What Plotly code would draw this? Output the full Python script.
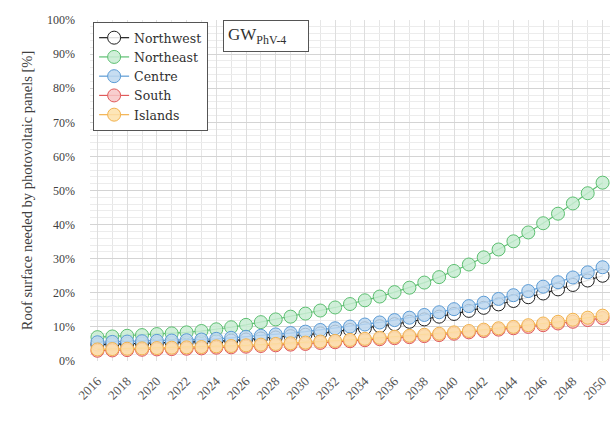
import plotly.graph_objects as go

years = list(range(2016, 2051))
tick_years = list(range(2016, 2051, 2))

northwest = [4.8, 4.9, 5.0, 5.1, 5.2, 5.3, 5.4, 5.6, 5.8, 6.0, 6.3, 6.6, 6.9, 7.3, 7.7,
             8.1, 8.6, 9.1, 9.6, 10.2, 10.8, 11.5, 12.2, 13.0, 13.8, 14.7, 15.6, 16.6,
             17.6, 18.7, 19.8, 21.0, 22.3, 23.6, 25.0]
northeast = [7.0, 7.2, 7.4, 7.6, 7.9, 8.1, 8.4, 8.8, 9.3, 9.9, 10.6, 11.4, 12.2, 13.0, 13.9,
             14.8, 15.7, 16.7, 17.8, 18.9, 20.2, 21.5, 23.0, 24.6, 26.4, 28.3, 30.4, 32.7,
             35.1, 37.7, 40.4, 43.2, 46.2, 49.2, 52.3]
centre = [5.5, 5.6, 5.7, 5.8, 5.9, 6.0, 6.1, 6.3, 6.5, 6.8, 7.1, 7.4, 7.8, 8.2, 8.6,
          9.1, 9.6, 10.1, 10.7, 11.3, 12.0, 12.7, 13.5, 14.3, 15.2, 16.1, 17.1, 18.2,
          19.3, 20.5, 21.8, 23.1, 24.5, 26.0, 27.5]
south = [3.0, 3.1, 3.2, 3.3, 3.4, 3.5, 3.6, 3.7, 3.9, 4.0, 4.2, 4.4, 4.6, 4.8, 5.0,
         5.3, 5.5, 5.8, 6.1, 6.4, 6.7, 7.0, 7.3, 7.6, 8.0, 8.4, 8.8, 9.2, 9.6, 10.0,
         10.5, 11.0, 11.5, 12.0, 12.6]
islands = [3.4, 3.5, 3.6, 3.7, 3.8, 3.9, 4.0, 4.1, 4.3, 4.4, 4.6, 4.8, 5.0, 5.2, 5.4,
           5.7, 5.9, 6.2, 6.5, 6.8, 7.1, 7.4, 7.7, 8.0, 8.4, 8.8, 9.2, 9.6, 10.0, 10.5,
           11.0, 11.5, 12.1, 12.7, 13.3]

series = [
    ("Northwest", northwest, "#1e1e1e", "rgba(255,255,255,0.85)"),
    ("Northeast", northeast, "#5cbf70", "rgba(200,236,210,0.85)"),
    ("Centre", centre, "#5b9bd5", "rgba(189,215,238,0.85)"),
    ("South", south, "#e05a5a", "rgba(247,198,198,0.85)"),
    ("Islands", islands, "#f2b24e", "rgba(253,224,170,0.85)"),
]

FONT = "Liberation Serif"
fig = go.Figure()
for name, vals, edge, fill in series:
    fig.add_trace(go.Scatter(
        x=years, y=vals, name=name, mode="lines+markers",
        line=dict(color=edge, width=1.2),
        marker=dict(symbol="circle", size=13, color=fill,
                    line=dict(color=edge, width=1)),
    ))

fig.update_layout(
    width=610, height=423,
    margin=dict(l=90, r=0, t=20, b=62),
    paper_bgcolor="white", plot_bgcolor="white",
    font=dict(family=FONT, size=12, color="#404040"),
    showlegend=True,
    legend=dict(
        x=0.006, y=0.994, xanchor="left", yanchor="top",
        bgcolor="white", bordercolor="#555555", borderwidth=1,
        font=dict(family="DejaVu Serif", size=12.5, color="#303030"),
        tracegroupgap=0, itemwidth=30,
    ),
    xaxis=dict(
        range=[2015.5, 2050.5],
        tickmode="array", tickvals=tick_years, ticktext=[str(y) for y in tick_years],
        tickangle=-45, showgrid=True, gridcolor="#dedede", gridwidth=1,
        zeroline=False, showline=False, ticks="", ticklabelstandoff=9,
        tickfont=dict(family=FONT, size=13, color="#555555"),
        minor=dict(tick0=2016, dtick=1, showgrid=True, gridcolor="#e6e6e6", gridwidth=1),
    ),
    yaxis=dict(
        range=[0, 100], dtick=10, ticksuffix="%",
        showgrid=True, gridcolor="#d4d4d4", gridwidth=1,
        zeroline=False, showline=False, ticks="", ticklabelstandoff=14,
        tickfont=dict(family=FONT, size=12, color="#404040"),
        title=dict(text="Roof surface needed by photovoltaic panels [%]",
                   font=dict(family=FONT, size=14.5, color="#404040"), standoff=10),
        minor=dict(dtick=2, showgrid=True, gridcolor="#ececec", gridwidth=1),
    ),
)

fig.add_annotation(
    x=0.338, y=0.952, xref="paper", yref="paper", xanchor="center", yanchor="middle",
    text="GW<sub>PhV-4</sub>", showarrow=False, width=76, align="left",
    font=dict(family=FONT, size=17, color="#303030"),
    bgcolor="white", bordercolor="#555555", borderwidth=1, borderpad=4,
)

fig.write_html(
    "out.html",
    config={"displayModeBar": False},
    post_script="document.body.style.margin='0';document.body.style.overflow='hidden';",
)
